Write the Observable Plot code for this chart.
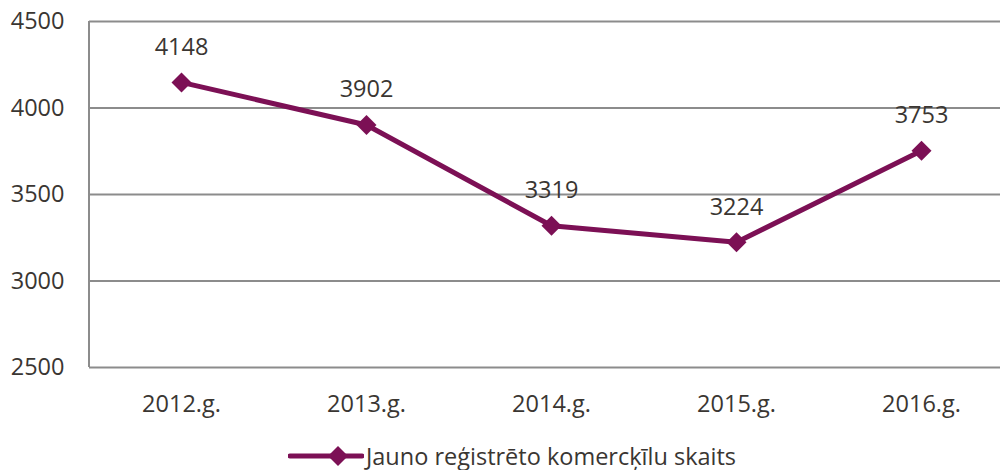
<!DOCTYPE html>
<html><head><meta charset="utf-8">
<script src="https://cdn.jsdelivr.net/npm/d3@7"></script>
<script src="https://cdn.jsdelivr.net/npm/@observablehq/plot@0.6"></script>
<style>
body{margin:0;background:#fff;font-family:"Open Sans",sans-serif;}
#legend{display:flex;align-items:center;justify-content:flex-start;height:50px;margin-top:11px;margin-left:288px;color:#3a3632;font-size:23.5px;}
#legend svg{display:block;margin-right:2px;}
</style></head><body>
<div id="chart"></div>
<div id="legend"></div>
<script>
const years = ["2012.g.","2013.g.","2014.g.","2015.g.","2016.g."];
const values = [4148, 3902, 3319, 3224, 3753];
const yTicks = [2500, 3000, 3500, 4000, 4500];
const seriesName = "Jauno reģistrēto komercķīlu skaits";
const color = "#7c1055";
const textColor = "#3a3632";

const data = years.map((y,i)=>({year:y, value:values[i]}));

const chart = Plot.plot({
  width: 1000, height: 420,
  marginLeft: 89, marginRight: 0, marginTop: 21, marginBottom: 53,
  style: {fontFamily: "'Open Sans', sans-serif", fontSize: "23.5px", color: textColor, background: "#fff"},
  x: {type: "point", domain: years, range: [180, 921], padding: 0, label: null},
  y: {domain: [2500, 4500], label: null},
  marks: [
    Plot.ruleY(yTicks, {stroke: "#8c8c8c", strokeWidth: 2, strokeOpacity: 1}),
    Plot.axisY({ticks: yTicks, tickSize: 0, tickPadding: 25, tickFormat: d => String(d), fontSize: 23.5, fill: textColor}),
    Plot.axisX({tickSize: 0, tickPadding: 28, fontSize: 23.5, fill: textColor}),
    Plot.line(data, {x: "year", y: "value", stroke: color, strokeWidth: 5}),
    Plot.dot(data, {x: "year", y: "value", symbol: "diamond2", r: 9, fill: color, stroke: "none"}),
    Plot.text(data, {x: "year", y: "value", text: d => String(d.value), dy: -35, fontSize: 23.5, fill: textColor})
  ]
});
document.getElementById("chart").appendChild(chart);
const svg = d3.select(chart);
const yScale = chart.scale("y");
svg.append("line").attr("x1", 89).attr("x2", 89)
  .attr("y1", yScale.apply(4500)).attr("y2", yScale.apply(2500))
  .attr("stroke", "#8c8c8c").attr("stroke-width", 2);

// legend
const leg = document.getElementById("legend");
const sw = d3.create("svg").attr("width", 76).attr("height", 24);
sw.append("line").attr("x1", 2).attr("x2", 74).attr("y1", 12).attr("y2", 12)
  .attr("stroke", color).attr("stroke-width", 5).attr("stroke-linecap", "round");
sw.append("path").attr("d", d3.symbol(d3.symbolDiamond2, Math.PI*81)()).attr("transform", "translate(50,12)").attr("fill", color);
leg.appendChild(sw.node());
const t = document.createElement("span");
t.textContent = seriesName;
leg.appendChild(t);
</script>
</body></html>
